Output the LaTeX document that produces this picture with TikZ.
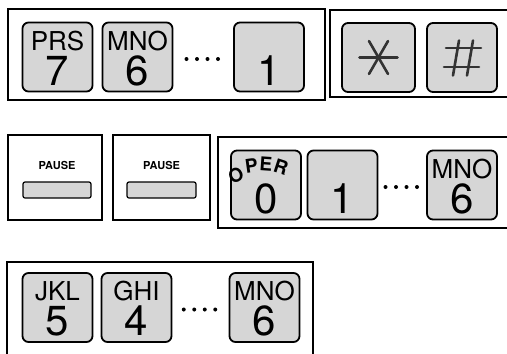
\documentclass[tikz,border=0pt]{standalone}
\usepackage{fontspec}
\newfontfamily\keyfont{TeX Gyre Heros}
\usetikzlibrary{calc}
\definecolor{keygray}{gray}{0.84}

% one push button: name, centre, letters, digit
\newcommand{\dialkey}[4]{%
  \node[key] (#1) at (#2) {};
  \node[keyletters] (#1-l) at ([yshift=7pt]#1.center) {#3};
  \node[keydigit]   (#1-d) at ([yshift=-28pt]#1.center) {#4};
}
% four dots between two keys
\newcommand{\keydots}[2]{%
  \foreach \dx in {-15.75,-5.25,5.25,15.75}
    \fill ($($(#1.east)!0.5!(#2.west)$)+(\dx-1,2)$) circle (2pt);
}

\begin{document}
\begin{tikzpicture}[
    x=1pt, y=-1pt,
    key/.style       ={draw, line width=1.8pt, rounded corners=6pt, fill=keygray,
                       minimum width=70pt, minimum height=69pt, inner sep=0pt},
    keyletters/.style={anchor=base, inner sep=0pt, font=\keyfont\fontsize{26pt}{26pt}\selectfont},
    keydigit/.style  ={anchor=base, inner sep=0pt, font=\keyfont\fontsize{42pt}{42pt}\selectfont},
    operletter/.style={inner sep=0pt, font=\keyfont\bfseries\fontsize{19pt}{19pt}\selectfont},
    panel/.style     ={draw, line width=1.3pt},
    pausebox/.style  ={draw, line width=1.3pt, minimum height=85pt},
    pausetext/.style ={inner sep=0pt, font=\keyfont\bfseries\fontsize{11pt}{11pt}\selectfont},
    slot/.style      ={draw, line width=1.2pt, rounded corners=2pt, fill=keygray,
                       minimum height=16pt, inner sep=0pt},
    sign/.style      ={line width=2.6pt, draw=black!80, line cap=round}
]
\useasboundingbox (0,0) rectangle (507,354);
\clip (0,0) rectangle (507,354);

% Row 1: panels
\draw[panel] (8,9) rectangle (325,100);
\draw[panel] (330,10) rectangle (520,97);

% Row 1: keys
\dialkey{prs}{57.5,57}{PRS}{7}
\dialkey{mnoa}{137.5,57}{MNO}{6}
\dialkey{onea}{269,57}{}{1}
\keydots{mnoa}{onea}
\node[key, minimum width=73pt] (star) at (378.5,57.5) {};
\node[key] (hash) at (462,57.5) {};

% star and hash signs
\foreach \a in {0,60,120}
  \draw[sign] ($(star.center)+(\a:19)$) -- ($(star.center)+(\a+180:19)$);
\draw[sign] ($(hash.center)+(-16,-9.5)$) -- ($(hash.center)+(19,-9.5)$);
\draw[sign] ($(hash.center)+(-18,9.5)$)  -- ($(hash.center)+(17,9.5)$);
\draw[sign] ($(hash.center)+(-9,18)$)    -- ($(hash.center)+(-3,-17)$);
\draw[sign] ($(hash.center)+(5,18)$)     -- ($(hash.center)+(11,-17)$);

% Row 2: pause buttons
\node[pausebox, minimum width=94pt] (pausea) at (55,177.5) {};
\node[pausetext] (pausea-t) at (57,165) {PAUSE};
\node[slot, minimum width=68pt] (pausea-s) at (57,190) {};
\node[pausebox, minimum width=97pt] (pauseb) at (161.5,177.5) {};
\node[pausetext] (pauseb-t) at (161.5,165) {PAUSE};
\node[slot, minimum width=69pt] (pauseb-s) at (161.5,190) {};

% Row 2: dialled digits
\draw[panel] (218,137) rectangle (520,228);
\dialkey{oper}{266,185}{}{0}
\node[operletter, rotate=22]  (oper-o) at (236,175) {O};
\node[operletter, rotate=8]   (oper-p) at (251.5,166) {P};
\node[operletter, rotate=-4]  (oper-e) at (266,164) {E};
\node[operletter, rotate=-18] (oper-r) at (281,167) {R};
\dialkey{oneb}{342.5,185}{}{1}
\dialkey{mnob}{462,185}{MNO}{6}
\keydots{oneb}{mnob}

% Row 3
\draw[panel] (7,262) rectangle (313,370);
\dialkey{jkl}{57.5,307.5}{JKL}{5}
\dialkey{ghi}{136.5,307.5}{GHI}{4}
\dialkey{mnoc}{264.5,307.5}{MNO}{6}
\keydots{ghi}{mnoc}

\end{tikzpicture}
\end{document}
